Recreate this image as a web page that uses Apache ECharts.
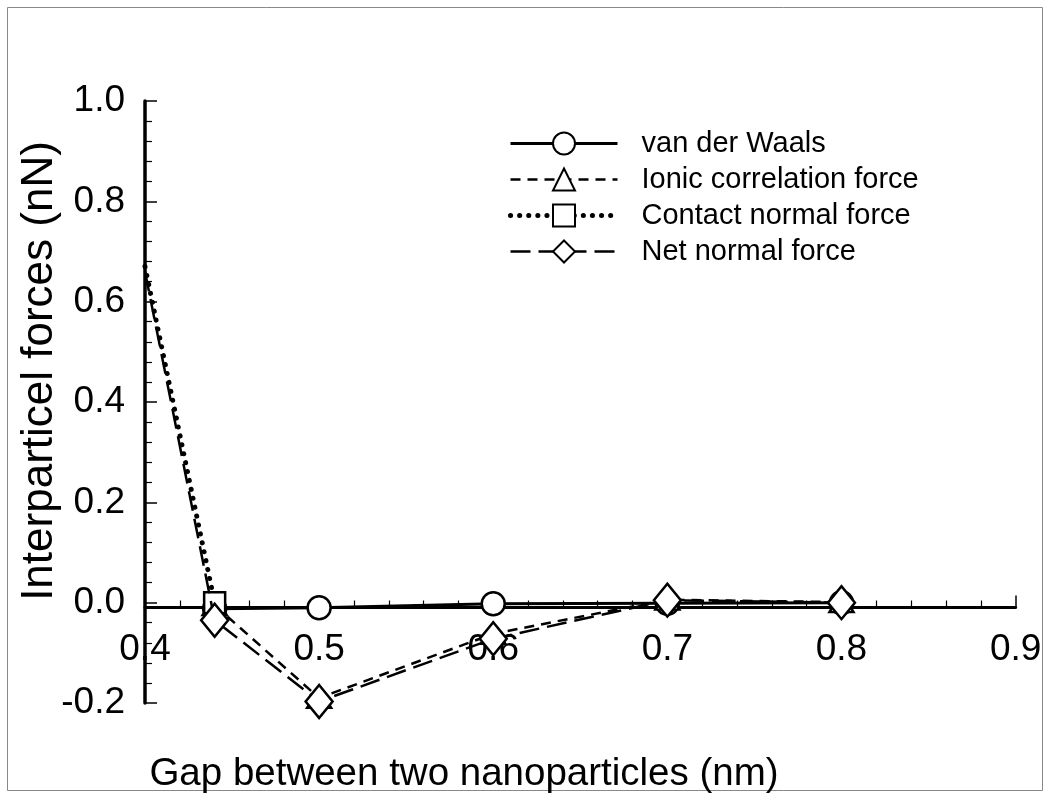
<!DOCTYPE html>
<html>
<head>
<meta charset="utf-8">
<script src="https://cdn.jsdelivr.net/npm/echarts@6/dist/echarts.min.js"></script>
<style>html,body{margin:0;padding:0;background:#fff}#c{width:1050px;height:794px}</style>
</head>
<body>
<div id="c"></div>
<script>
// ---- data ----
const seriesNames = ['van der Waals', 'Ionic correlation force', 'Contact normal force', 'Net normal force'];
const vdwX = [0.44, 0.5, 0.6, 0.7, 0.8];
const vdwY = [-0.012, -0.01, -0.002, -0.001, 0.0];
const ionicX = [0.44, 0.5, 0.6, 0.7, 0.8];
const ionicY = [-0.005, -0.19, -0.062, 0.006, 0.001];
const contactX = [0.4, 0.44];
const contactY = [0.67, 0.0];
const netX = [0.4, 0.44, 0.5, 0.6, 0.7, 0.8];
const netY = [0.66, -0.035, -0.197, -0.072, 0.005, 0.0];
const xTitle = 'Gap between two nanoparticles (nm)';
const yTitle = 'Interparticel forces (nN)';

const FONT = '"Liberation Sans", Arial, sans-serif';
function pairs(xs, ys, hideFirstAtMin) {
  return xs.map((x, i) => {
    const item = { value: [x, ys[i]] };
    if (hideFirstAtMin && x === 0.4) item.symbol = 'none';
    return item;
  });
}
const markerStyle = { color: '#fff', borderColor: '#000', borderWidth: 2.5 };
const lineStyles = [
  { color: '#000', width: 3, type: 'solid' },
  { color: '#000', width: 2.5, type: [10, 7] },
  { color: '#000', width: 5, type: [0.1, 9], cap: 'round' },
  { color: '#000', width: 2.5, type: [20, 8] }
];

const chart = echarts.init(document.getElementById('c'), null, { renderer: 'canvas' });
chart.setOption({
  animation: false,
  backgroundColor: '#fff',
  grid: { left: 145, top: 101, width: 870.6, height: 602, containLabel: false },
  xAxis: {
    type: 'value', min: 0.4, max: 0.9, interval: 0.1,
    axisLine: { onZero: false, lineStyle: { color: '#000', width: 3 } },
    offset: -95.5,
    axisTick: { inside: true, length: 12, lineStyle: { color: '#000', width: 1.5 } },
    minorTick: { show: true, splitNumber: 5, length: 7, lineStyle: { color: '#000', width: 1.2 } },
    axisLabel: { margin: 24, color: '#000', fontFamily: FONT, fontSize: 37, formatter: v => v.toFixed(1) },
    splitLine: { show: false }
  },
  yAxis: {
    type: 'value', min: -0.2, max: 1.0, interval: 0.2,
    axisLine: { show: true, lineStyle: { color: '#000', width: 3.5 } },
    axisTick: { show: true, inside: true, length: 12, lineStyle: { color: '#000', width: 1.5 } },
    minorTick: { show: true, splitNumber: 5, length: 7, lineStyle: { color: '#000', width: 1.2 } },
    axisLabel: { margin: 20, color: '#000', fontFamily: FONT, fontSize: 37, formatter: v => v.toFixed(1) },
    splitLine: { show: false }
  },
  legend: {
    orient: 'vertical', left: 503, top: 124,
    itemWidth: 107, itemHeight: 27.5, itemGap: 7,
    textStyle: { fontFamily: FONT, fontSize: 29, lineHeight: 27.5, color: '#000', padding: [0, 0, 0, 19] },
    data: seriesNames.map((n, i) => ({ name: n, lineStyle: lineStyles[i] }))
  },
  graphic: [
    { type: 'rect', silent: true, shape: { x: 7.5, y: 7.5, width: 1035, height: 783 }, style: { fill: 'none', stroke: '#888', lineWidth: 1 } },
    { type: 'text', silent: true, x: 464, y: 774, style: { text: xTitle, fontFamily: FONT, fontSize: 38.5, fill: '#000', align: 'center', verticalAlign: 'middle' } },
    { type: 'text', silent: true, x: 40, y: 371, rotation: Math.PI / 2, style: { text: yTitle, fontFamily: FONT, fontSize: 44, fill: '#000', align: 'center', verticalAlign: 'middle' } }
  ],
  series: [
    { name: seriesNames[0], type: 'line', data: pairs(vdwX, vdwY), symbol: 'circle', symbolSize: 23,
      itemStyle: markerStyle, lineStyle: lineStyles[0], z: 2 },
    { name: seriesNames[1], type: 'line', data: pairs(ionicX, ionicY), symbol: 'triangle', symbolSize: [24, 20],
      itemStyle: markerStyle, lineStyle: lineStyles[1], z: 3 },
    { name: seriesNames[2], type: 'line', data: pairs(contactX, contactY, true), symbol: 'rect', symbolSize: 21,
      itemStyle: markerStyle, lineStyle: lineStyles[2], z: 4 },
    { name: seriesNames[3], type: 'line', data: pairs(netX, netY, true), symbol: 'diamond', symbolSize: [27, 33],
      itemStyle: markerStyle, lineStyle: lineStyles[3], z: 5 }
  ]
});
</script>
</body>
</html>
